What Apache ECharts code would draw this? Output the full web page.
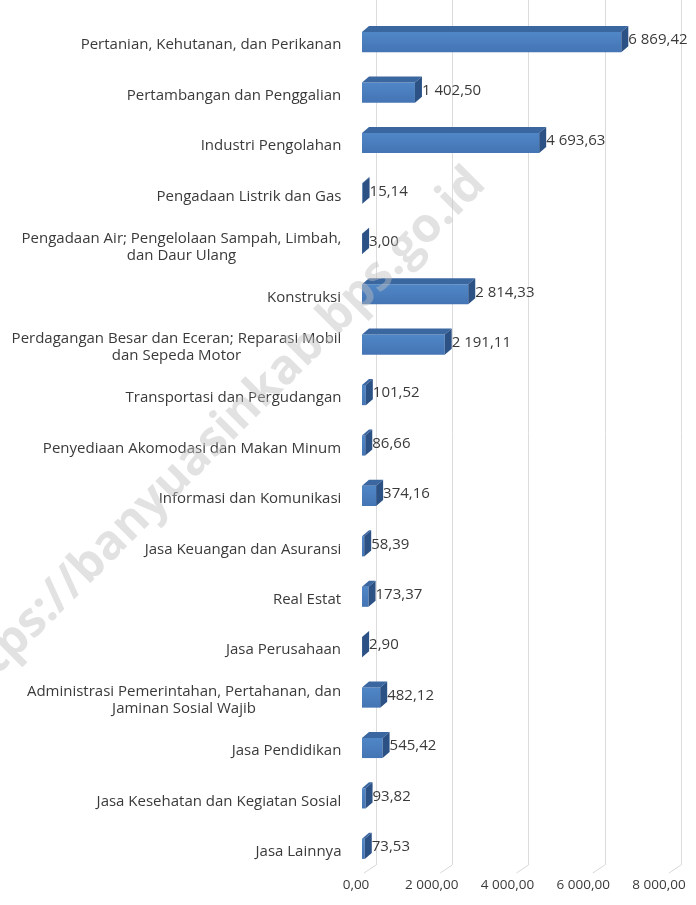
<!DOCTYPE html>
<html>
<head>
<meta charset="utf-8">
<script src="https://cdn.jsdelivr.net/npm/echarts@6/dist/echarts.min.js"></script>
<style>
  html, body { margin: 0; padding: 0; background: #fff; }
  #chart { width: 696px; height: 905px; }
</style>
</head>
<body>
<div id="chart"></div>
<script>
const categories = [
  'Pertanian, Kehutanan, dan Perikanan',
  'Pertambangan dan Penggalian',
  'Industri Pengolahan',
  'Pengadaan Listrik dan Gas',
  'Pengadaan Air; Pengelolaan Sampah, Limbah,\ndan Daur Ulang',
  'Konstruksi',
  'Perdagangan Besar dan Eceran; Reparasi Mobil\ndan Sepeda Motor',
  'Transportasi dan Pergudangan',
  'Penyediaan Akomodasi dan Makan Minum',
  'Informasi dan Komunikasi',
  'Jasa Keuangan dan Asuransi',
  'Real Estat',
  'Jasa Perusahaan',
  'Administrasi Pemerintahan, Pertahanan, dan\nJaminan Sosial Wajib',
  'Jasa Pendidikan',
  'Jasa Kesehatan dan Kegiatan Sosial',
  'Jasa Lainnya'
]
const values = [6869.42, 1402.50, 4693.63, 15.14, 3.00, 2814.33, 2191.11, 101.52, 86.66, 374.16, 58.39, 173.37, 2.90, 482.12, 545.42, 93.82, 73.53]
const tickValues = [0, 2000, 4000, 6000, 8000]

const FONT = '"Open Sans", "Noto Sans", sans-serif'
const TEXT_COLOR = '#3a3a3a'
const DEPTH_X = 7
const DEPTH_Y = 6

function fmt(v) {
  const parts = v.toFixed(2).split('.')
  const intPart = parts[0].replace(/\B(?=(\d{3})+(?!\d))/g, ' ')
  return intPart + ',' + parts[1]
}

// measure label lines so wrapped labels get centred lines inside a right-aligned block
const ctx = document.createElement('canvas').getContext('2d')
ctx.font = '15px ' + FONT
const rich = {}
categories.forEach((c, i) => {
  const w = Math.max(...c.split('\n').map(l => ctx.measureText(l).width))
  rich['l' + i] = { width: Math.ceil(w) + 1, align: 'center', fontSize: 15, fontFamily: FONT, color: TEXT_COLOR, lineHeight: 17 }
})

function renderBar(params, api) {
  const idx = api.value(0)
  const val = api.value(1)
  const start = api.coord([0, idx])
  const end = api.coord([val, idx])
  const h = api.size([0, 1])[1] * 0.4
  const cy = start[1]
  const yT = cy - h / 2
  const yB = cy + h / 2
  const x0 = start[0]
  const x1 = end[0]
  return {
    type: 'group',
    children: [
      {
        type: 'rect',
        shape: { x: x0, y: yT, width: Math.max(x1 - x0, 0.5), height: h },
        style: {
          fill: new echarts.graphic.LinearGradient(0, 0, 0, 1, [
            { offset: 0, color: '#5087c7' },
            { offset: 1, color: '#4474b3' }
          ])
        }
      },
      {
        type: 'polygon',
        shape: { points: [[x0, yT], [x0 + DEPTH_X, yT - DEPTH_Y], [x1 + DEPTH_X, yT - DEPTH_Y], [x1, yT]] },
        style: { fill: '#3b67a1' }
      },
      {
        type: 'polygon',
        shape: { points: [[x1, yT], [x1 + DEPTH_X, yT - DEPTH_Y], [x1 + DEPTH_X, yB - DEPTH_Y], [x1, yB]] },
        style: { fill: '#2c5185' }
      },
      {
        type: 'text',
        style: {
          x: x1 + DEPTH_X,
          y: cy - 2,
          text: fmt(val),
          align: 'left',
          verticalAlign: 'middle',
          fontSize: 15,
          fontFamily: FONT,
          fill: TEXT_COLOR
        }
      }
    ]
  }
}

function renderFloor(params, api) {
  const p = api.coord([api.value(0), 0])
  return {
    type: 'line',
    shape: { x1: p[0], y1: p[1], x2: p[0] - 12, y2: p[1] + 8 },
    style: { stroke: '#d9d9d9', lineWidth: 1 }
  }
}

const chart = echarts.init(document.getElementById('chart'))
chart.setOption({
  animation: false,
  backgroundColor: '#fff',
  grid: [
    { left: 362, right: 32, top: 17, bottom: 31 },
    { left: 376, right: 15, top: 0, bottom: 40 },
    { left: 356, right: 37, top: 17, bottom: 31 }
  ],
  xAxis: [
    { gridIndex: 0, type: 'value', min: 0, max: 8000, interval: 2000, show: false },
    {
      gridIndex: 1, type: 'value', min: 0, max: 8000, interval: 2000,
      axisLine: { show: false }, axisTick: { show: false }, axisLabel: { show: false },
      splitLine: { show: true, lineStyle: { color: '#dcdcdc', width: 1 } }
    },
    {
      gridIndex: 2, type: 'value', min: 0, max: 8000, interval: 2000,
      axisLine: { show: false }, axisTick: { show: false }, splitLine: { show: false },
      axisLabel: { margin: 4, fontSize: 13.5, fontFamily: FONT, color: TEXT_COLOR, formatter: v => fmt(v) }
    }
  ],
  yAxis: [
    {
      gridIndex: 0, type: 'category', data: categories, inverse: true,
      axisLine: { show: false }, axisTick: { show: false },
      axisLabel: {
        margin: 20,
        padding: [6, 0, 0, 0],
        formatter: (v, i) => v.split('\n').map(l => '{l' + i + '|' + l + '}').join('\n'),
        rich
      }
    },
    { gridIndex: 1, type: 'value', min: 0, max: 1, show: false },
    { gridIndex: 2, type: 'value', min: 0, max: 1, show: false }
  ],
  series: [
    {
      type: 'custom',
      xAxisIndex: 1,
      yAxisIndex: 1,
      renderItem: renderFloor,
      data: tickValues.map(v => [v]),
      silent: true,
      z: 1
    },
    {
      type: 'custom',
      xAxisIndex: 0,
      yAxisIndex: 0,
      renderItem: renderBar,
      encode: { x: 1, y: 0 },
      data: values.map((v, i) => [i, v]),
      z: 5
    }
  ],
  graphic: [
    {
      type: 'text',
      x: 214,
      y: 440,
      rotation: 45 * Math.PI / 180,
      z: 100,
      silent: true,
      style: {
        text: 'https://banyuasinkab.bps.go.id',
        align: 'center',
        verticalAlign: 'middle',
        fontSize: 48,
        fontWeight: 'bold',
        fontFamily: FONT,
        fill: 'rgba(190,190,190,0.45)'
      }
    }
  ]
})
</script>
</body>
</html>
